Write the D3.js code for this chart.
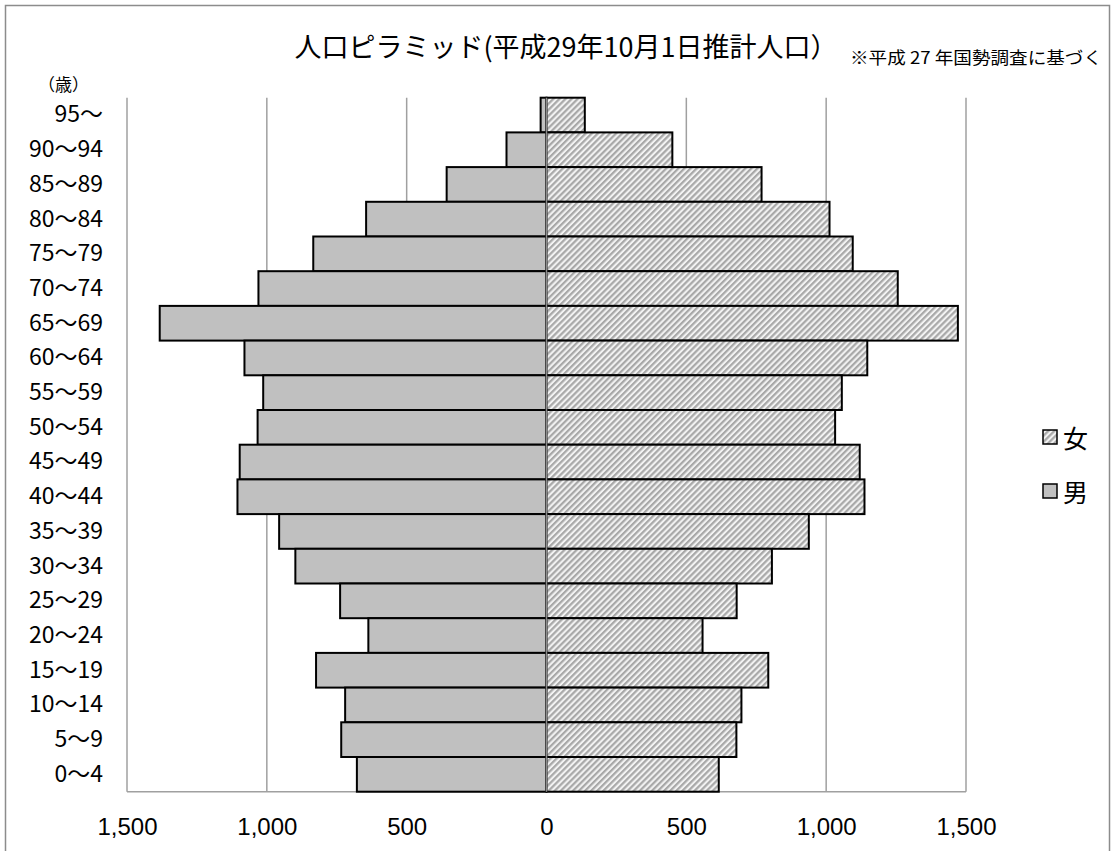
<!DOCTYPE html>
<html>
<head>
<meta charset="utf-8">
<script src="https://cdn.jsdelivr.net/npm/d3@7"></script>
<style>
  html, body { margin: 0; padding: 0; background: #fff; }
  svg { display: block; }
  text { font-family: "Noto Sans CJK JP", "Noto Sans", sans-serif; fill: #000; }
</style>
</head>
<body>
<svg id="chart" width="1115" height="851"></svg>
<script>
// ---- data ----
const categories = ["95～","90～94","85～89","80～84","75～79","70～74","65～69","60～64","55～59","50～54",
                    "45～49","40～44","35～39","30～34","25～29","20～24","15～19","10～14","5～9","0～4"];
const male   = [21, 143, 357, 645, 834, 1030, 1383, 1080, 1013, 1033, 1097, 1105, 956, 898, 738, 637, 824, 720, 734, 678];
const female = [137, 450, 769, 1012, 1095, 1256, 1471, 1147, 1056, 1032, 1120, 1137, 938, 806, 680, 558, 793, 697, 679, 616];
const tickValues = [-1500, -1000, -500, 0, 500, 1000, 1500];
const seriesNames = ["女", "男"];
const titleText = "人口ピラミッド(平成29年10月1日推計人口）";
const noteText = "※平成 27 年国勢調査に基づく";
const unitText = "（歳）";

// ---- layout ----
const plot = { left: 127, right: 966, top: 97.7, bottom: 791.7 };

const svg = d3.select("#chart");

// outer frame
svg.append("rect")
  .attr("x", 5.5).attr("y", 5.5).attr("width", 1104).attr("height", 900)
  .attr("fill", "none").attr("stroke", "#8c8c8c").attr("stroke-width", 1.5);

// pattern for female
const defs = svg.append("defs");
const pat = defs.append("pattern")
  .attr("id", "hatch").attr("patternUnits", "userSpaceOnUse")
  .attr("width", 4.3).attr("height", 4.3)
  .attr("patternTransform", "rotate(45)");
pat.append("rect").attr("width", 4.3).attr("height", 4.3).attr("fill", "#f2f2f2");
pat.append("rect").attr("x", 0).attr("width", 2.2).attr("height", 4.3).attr("fill", "#a8a8a8");

const x = d3.scaleLinear().domain([-1500, 1500]).range([plot.left, plot.right]);
const y = d3.scaleBand().domain(categories).range([plot.top, plot.bottom]).padding(0);

// gridlines
svg.append("g").selectAll("line").data(tickValues.filter(v => v !== 0)).join("line")
  .attr("x1", d => x(d)).attr("x2", d => x(d))
  .attr("y1", plot.top).attr("y2", plot.bottom)
  .attr("stroke", "#a0a0a0").attr("stroke-width", 1.5);

// bottom line
svg.append("line")
  .attr("x1", plot.left).attr("x2", plot.right)
  .attr("y1", plot.bottom).attr("y2", plot.bottom)
  .attr("stroke", "#a0a0a0").attr("stroke-width", 1.5);

// male bars
svg.append("g").selectAll("rect").data(categories).join("rect")
  .attr("x", (d, i) => x(-male[i]))
  .attr("y", d => y(d))
  .attr("width", (d, i) => x(0) - x(-male[i]))
  .attr("height", y.bandwidth())
  .attr("fill", "#c0c0c0").attr("stroke", "#000").attr("stroke-width", 2);

// female bars
svg.append("g").selectAll("rect").data(categories).join("rect")
  .attr("x", x(0))
  .attr("y", d => y(d))
  .attr("width", (d, i) => x(female[i]) - x(0))
  .attr("height", y.bandwidth())
  .attr("fill", "url(#hatch)").attr("stroke", "#000").attr("stroke-width", 2);

// zero axis line on top
svg.append("line")
  .attr("x1", x(0)).attr("x2", x(0))
  .attr("y1", plot.top).attr("y2", plot.bottom)
  .attr("stroke", "#8c8c8c").attr("stroke-width", 1.5);

// y labels
const yAxis = svg.append("g")
  .attr("transform", `translate(103,0)`)
  .call(d3.axisLeft(y).tickSize(0).tickPadding(0));
yAxis.select(".domain").remove();
yAxis.selectAll("text")
  .style("font-family", "'Noto Sans CJK JP', sans-serif")
  .style("font-size", "23px").attr("fill", "#000");

// x labels
const xAxis = svg.append("g")
  .attr("transform", `translate(0,${plot.bottom})`)
  .call(d3.axisBottom(x).tickValues(tickValues).tickSize(0).tickPadding(26)
    .tickFormat(d => d3.format(",")(Math.abs(d))));
xAxis.select(".domain").remove();
xAxis.selectAll("text")
  .style("font-family", "'Liberation Sans', Arial, sans-serif")
  .style("font-size", "24px").attr("fill", "#000");

// title
svg.append("text").attr("x", 566).attr("y", 57).attr("text-anchor", "middle")
  .style("font-size", "27px").text(titleText);
svg.append("text").attr("x", 850).attr("y", 64)
  .attr("textLength", 252).attr("lengthAdjust", "spacingAndGlyphs")
  .style("font-size", "17px").text(noteText);
svg.append("text").attr("x", 38).attr("y", 91)
  .style("font-size", "17px").text(unitText);

// legend
const leg = svg.append("g");
const legY = [437, 491];
seriesNames.forEach((name, i) => {
  leg.append("rect").attr("x", 1043).attr("y", legY[i] - 7).attr("width", 14).attr("height", 14)
    .attr("fill", i === 0 ? "url(#hatch)" : "#c0c0c0").attr("stroke", "#000").attr("stroke-width", 1.5);
  leg.append("text").attr("x", 1063).attr("y", legY[i]).attr("dominant-baseline", "central")
    .style("font-size", "25px").text(name);
});
</script>
</body>
</html>
